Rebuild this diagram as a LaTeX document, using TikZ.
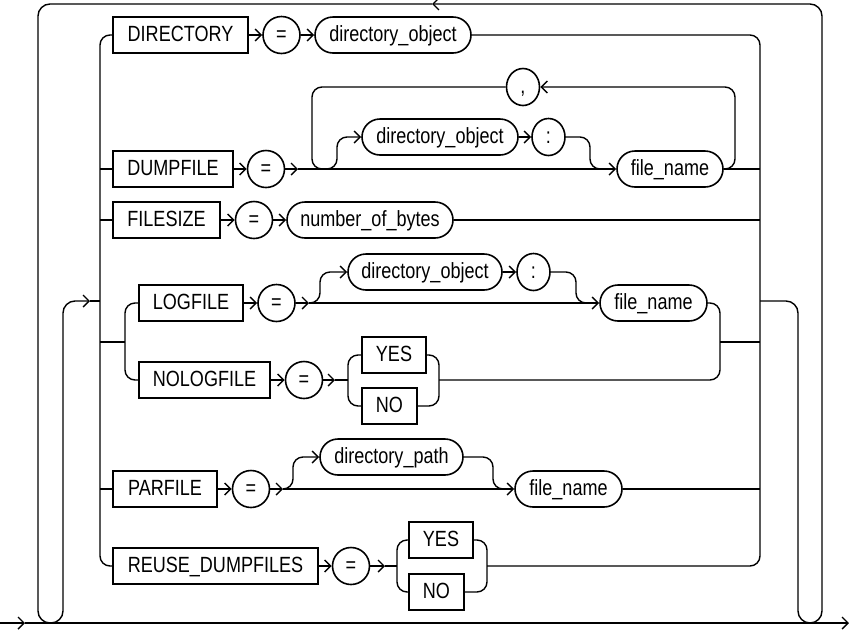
\documentclass[tikz,border=0pt]{standalone}
\usepackage{fontspec}
\setmainfont{Liberation Sans}[FakeStretch=0.82]
\usetikzlibrary{arrows.meta,shapes.geometric}
\begin{document}
\begin{tikzpicture}[x=1pt,y=-1pt,line width=1.4pt,
  txt/.style={font=\fontsize{22}{26}\selectfont, text height=16pt, text depth=3pt, inner sep=0pt, draw, line width=1.6pt},
  kw/.style={txt, rectangle, minimum height=36pt},
  eqc/.style={txt, circle, minimum size=37pt},
  ref/.style={txt, rectangle, rounded corners=18pt, minimum height=36pt},
  pnc/.style={txt, ellipse, minimum width=33pt, minimum height=37pt},
  arr/.style={-{Straight Barb[length=6pt,width=12pt]}},
  rr/.style={rounded corners=10pt},
  rl/.style={rounded corners=12pt}]
\useasboundingbox (0,0) rectangle (849,630);

% ---- nodes
\node[kw, minimum width=135pt] (dir) at (180.5,35) {DIRECTORY};
\node[eqc] (eq1) at (281.5,35) {=};
\node[ref, minimum width=156pt] (do1) at (393,35) {directory\_object};

\node[kw, minimum width=120pt] (dump) at (173,169) {DUMPFILE};
\node[eqc] (eq2) at (266,169) {=};
\node[pnc] (comma) at (523,87) {,};
\node[ref, minimum width=156pt] (do2) at (440,137) {directory\_object};
\node[pnc] (col2) at (548.5,137) {:};
\node[ref, minimum width=106pt] (fn2) at (670,169) {file\_name};

\node[kw, minimum width=107pt] (fsz) at (166.5,220) {FILESIZE};
\node[eqc] (eq3) at (254,220) {=};
\node[ref, minimum width=166pt] (nob) at (370,220) {number\_of\_bytes};

\node[kw, minimum width=104pt] (log) at (191,303) {LOGFILE};
\node[eqc] (eq4) at (276.5,303) {=};
\node[ref, minimum width=154pt] (do4) at (425,272) {directory\_object};
\node[pnc] (col4) at (533.5,272) {:};
\node[ref, minimum width=107pt] (fn4) at (653.5,303) {file\_name};

\node[kw, minimum width=131pt] (nolog) at (204.5,380) {NOLOGFILE};
\node[eqc] (eq5) at (304,380) {=};
\node[kw, minimum width=64pt] (yes5) at (394,355) {YES};
\node[kw, minimum width=55pt] (no5) at (389.5,406) {NO};

\node[kw, minimum width=104pt] (par) at (165,489) {PARFILE};
\node[eqc] (eq6) at (251,489) {=};
\node[ref, minimum width=143pt] (dp) at (391.5,457) {directory\_path};
\node[ref, minimum width=107pt] (fn6) at (568.5,489) {file\_name};

\node[kw, minimum width=205pt] (reuse) at (215.5,566) {REUSE\_DUMPFILES};
\node[eqc] (eq7) at (351,566) {=};
\node[kw, minimum width=64pt] (yes7) at (441,540) {YES};
\node[kw, minimum width=55pt] (no7) at (436.5,592) {NO};

% ---- named coordinates
\coordinate (m0) at (0,623);
\coordinate (m1) at (25,623);
\coordinate (m2) at (849,623);
\coordinate (tl) at (432,4);
\coordinate (inL) at (90,301);
\coordinate (jL) at (100,301);
\coordinate (outR) at (760,301);
\coordinate (a2) at (298,169);
\coordinate (s2) at (323,169);
\coordinate (e2) at (605,169);
\coordinate (c2) at (330,169);
\coordinate (a4) at (309,303);
\coordinate (e4) at (590,303);
\coordinate (a5) at (335,380);
\coordinate (y5) at (348,380);
\coordinate (n5) at (439,380);
\coordinate (a6) at (283,489);
\coordinate (e6) at (505,489);
\coordinate (a7) at (385,566);
\coordinate (y7) at (397,566);
\coordinate (n7) at (487,566);
\coordinate (lg) at (125,342);
\coordinate (rg) at (720,342);

% ---- main line and outer loop
\draw[arr] (m0) -- (m1);
\draw[arr] (m1) -- (m2);
\draw[rl, arr] (tl) -- (38,4) -- (38,623) -- (63,623) -- (63,301) -- (inL);
\draw (inL) -- (jL);
\draw[rl, arr] (outR) -- (798,301) -- (798,623) -- (822,623) -- (822,4) -- (tl);

% ---- choice rails
\draw[rr] (dir.west) -- (100,35) -- (100,566) -- (reuse.west);
\draw[rr] (do1.east) -- (760,35) -- (760,566) -- (n7);

% ---- row 1
\draw[arr] (dir) -- (eq1);
\draw[arr] (eq1) -- (do1);

% ---- row 2
\draw (100,169) -- (dump.west);
\draw[arr] (dump) -- (eq2);
\draw[arr] (eq2) -- (a2);
\draw[arr] (a2) -- (fn2);
\draw[rr, arr] (s2) -- (337,169) -- (337,137) -- (do2);
\draw[arr] (do2) -- (col2);
\draw[rr] (col2) -- (590,137) -- (590,169) -- (e2);
\draw[rr, arr] (fn2) -- (735,169) -- (735,87) -- (comma);
\draw[rr] (comma) -- (312,87) -- (312,169) -- (c2);
\draw (fn2) -- (760,169);

% ---- row 3
\draw (100,220) -- (fsz.west);
\draw[arr] (fsz) -- (eq3);
\draw[arr] (eq3) -- (nob);
\draw (nob) -- (760,220);

% ---- rows 4/5
\draw (100,342) -- (lg);
\draw[rr] (log.west) -- (125,303) -- (125,380) -- (nolog.west);
\draw[arr] (log) -- (eq4);
\draw[arr] (eq4) -- (a4);
\draw[arr] (a4) -- (fn4);
\draw[rr, arr] (a4) -- (320,303) -- (320,272) -- (do4);
\draw[arr] (do4) -- (col4);
\draw[rr] (col4) -- (576,272) -- (576,303) -- (e4);
\draw[rr] (fn4) -- (720,303) -- (720,380) -- (n5);
\draw (rg) -- (760,342);
\draw[arr] (nolog) -- (eq5);
\draw[arr] (eq5) -- (a5);
\draw (a5) -- (y5);
\draw[rr] (yes5) -- (348,355) -- (348,406) -- (no5);
\draw[rr] (yes5) -- (439,355) -- (439,406) -- (no5);

% ---- row 6
\draw (100,489) -- (par.west);
\draw[arr] (par) -- (eq6);
\draw[arr] (eq6) -- (a6);
\draw[arr] (a6) -- (fn6);
\draw[rr, arr] (a6) -- (293,489) -- (293,457) -- (dp);
\draw[rr] (dp) -- (493,457) -- (493,489) -- (e6);
\draw (fn6) -- (760,489);

% ---- row 7
\draw[arr] (reuse) -- (eq7);
\draw[arr] (eq7) -- (a7);
\draw (a7) -- (y7);
\draw[rr] (yes7) -- (397,540) -- (397,592) -- (no7);
\draw[rr] (yes7) -- (487,540) -- (487,592) -- (no7);
\end{tikzpicture}
\end{document}
